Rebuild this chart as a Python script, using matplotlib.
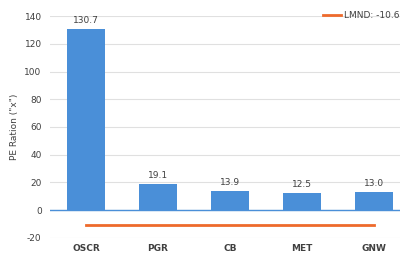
import matplotlib.pyplot as plt

plt.rcParams['axes.unicode_minus'] = False

tickers = ['OSCR', 'PGR', 'CB', 'MET', 'GNW']
pe_ratios = [130.7, 19.1, 13.9, 12.5, 13.0]
lmnd_label = 'LMND: -10.6'
lmnd_pe = -10.6

fig = plt.figure(figsize=(4, 2.54), dpi=100)
ax = fig.add_axes([0.125, 0.063, 0.9, 0.874])

x = range(len(tickers))
ax.bar(x, pe_ratios, width=0.54, color='#4a8fd8', zorder=3)
for i, v in zip(x, pe_ratios):
    ax.text(i, v + 3, '%.1f' % v, ha='center', va='bottom', fontsize=6.5, color='#404040')

ax.plot([0, len(tickers) - 1], [lmnd_pe] * 2, color='#ee6a2c', lw=2, zorder=4, label=lmnd_label)
ax.axhline(0, color='#4a8fd8', lw=1, zorder=2)

ax.set_ylim(-20, 140)
ax.set_xlim(-0.5, 4.5)
ax.set_yticks(range(-20, 141, 20))
ax.set_xticks(list(x))
ax.set_xticklabels(tickers, fontweight='bold')
ax.tick_params(axis='both', length=0, labelsize=6.5, colors='#404040')
ax.tick_params(axis='x', pad=4)
ax.tick_params(axis='y', pad=6)
ax.grid(axis='y', color='#e0e0e0', lw=0.8, zorder=0)
for s in ax.spines.values():
    s.set_visible(False)
ax.set_ylabel('PE Ration ("x")', fontsize=6.5, color='#404040', labelpad=4)

ax.legend(loc='center left', bbox_to_anchor=(0.808, 0.94), bbox_transform=fig.transFigure,
          frameon=False, fontsize=6.5, handlelength=2.0, handletextpad=0.3,
          borderaxespad=0, borderpad=0, labelcolor='#404040')

fig.savefig('out.png', dpi=100)
